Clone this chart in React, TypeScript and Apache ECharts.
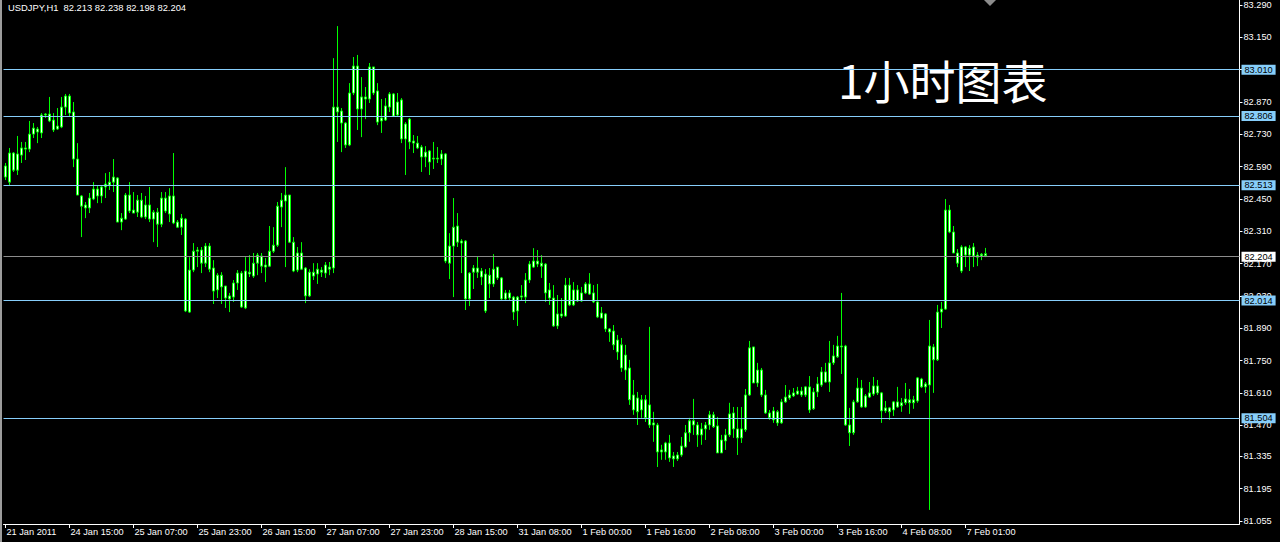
import React, { useEffect, useRef } from 'react';
import * as echarts from 'echarts';

const infoText = 'USDJPY,H1  82.213 82.238 82.198 82.204';
const chartTitle = '1小时图表';

const xTickLabels = [
  '21 Jan 2011', '24 Jan 15:00', '25 Jan 07:00', '25 Jan 23:00', '26 Jan 15:00', '27 Jan 07:00',
  '27 Jan 23:00', '28 Jan 15:00', '31 Jan 08:00', '1 Feb 00:00', '1 Feb 16:00', '2 Feb 08:00',
  '3 Feb 00:00', '3 Feb 16:00', '4 Feb 08:00', '7 Feb 01:00',
];
const barsPerLabel = 16;

const yTickValues = [
  83.29, 83.15, 83.01, 82.87, 82.73, 82.59, 82.45, 82.31, 82.17, 82.03,
  81.89, 81.75, 81.61, 81.47, 81.335, 81.195, 81.055,
];
const yMin = 81.042;
const yMax = 83.312;

const levelLines = [83.01, 82.806, 82.513, 82.014, 81.504];
const bidPrice = 82.204;

// [open, close, low, high]
const ohlc: number[][] = [
  // 0
  [82.545, 82.593, 82.532, 82.606], [82.523, 82.649, 82.510, 82.671], [82.649, 82.575, 82.567, 82.653], [82.575, 82.645, 82.554, 82.723],
  [82.640, 82.671, 82.606, 82.697], [82.666, 82.671, 82.619, 82.697], [82.666, 82.731, 82.653, 82.788], [82.731, 82.757, 82.714, 82.779],
  [82.753, 82.740, 82.692, 82.762], [82.736, 82.814, 82.714, 82.822], [82.814, 82.818, 82.801, 82.822], [82.818, 82.788, 82.783, 82.892],
  [82.792, 82.749, 82.740, 82.822], [82.753, 82.766, 82.749, 82.844], [82.762, 82.848, 82.757, 82.892], [82.848, 82.896, 82.814, 82.905],
  // 16
  [82.896, 82.822, 82.805, 82.905], [82.827, 82.623, 82.588, 82.870], [82.623, 82.467, 82.467, 82.692], [82.463, 82.419, 82.285, 82.467],
  [82.424, 82.411, 82.367, 82.437], [82.411, 82.454, 82.389, 82.476], [82.450, 82.493, 82.445, 82.523], [82.493, 82.463, 82.432, 82.506],
  [82.463, 82.502, 82.432, 82.506], [82.502, 82.515, 82.454, 82.562], [82.510, 82.523, 82.489, 82.567], [82.523, 82.545, 82.480, 82.623],
  [82.541, 82.350, 82.350, 82.545], [82.350, 82.367, 82.315, 82.389], [82.363, 82.467, 82.359, 82.476], [82.467, 82.398, 82.389, 82.523],
  // 32
  [82.402, 82.389, 82.389, 82.480], [82.393, 82.445, 82.372, 82.467], [82.445, 82.372, 82.367, 82.476], [82.372, 82.424, 82.363, 82.463],
  [82.424, 82.363, 82.350, 82.502], [82.363, 82.393, 82.263, 82.402], [82.393, 82.341, 82.242, 82.411], [82.341, 82.454, 82.328, 82.480],
  [82.454, 82.398, 82.389, 82.480], [82.385, 82.463, 82.350, 82.497], [82.463, 82.346, 82.341, 82.649], [82.350, 82.328, 82.324, 82.359],
  [82.328, 82.367, 82.294, 82.385], [82.363, 81.965, 81.960, 82.367], [81.960, 82.142, 81.956, 82.198], [82.142, 82.224, 82.133, 82.259],
  // 48
  [82.224, 82.229, 82.155, 82.242], [82.229, 82.172, 82.129, 82.242], [82.172, 82.246, 82.155, 82.259], [82.246, 82.146, 82.133, 82.259],
  [82.151, 82.051, 81.995, 82.185], [82.056, 82.120, 82.021, 82.129], [82.120, 82.069, 81.995, 82.133], [82.073, 82.021, 81.978, 82.073],
  [82.030, 82.017, 81.960, 82.043], [82.025, 82.086, 82.004, 82.099], [82.086, 82.129, 82.056, 82.142], [82.129, 81.982, 81.978, 82.138],
  [81.978, 82.138, 81.973, 82.198], [82.133, 82.125, 82.112, 82.207], [82.116, 82.172, 82.108, 82.216], [82.172, 82.207, 82.120, 82.216],
  // 64
  [82.203, 82.159, 82.129, 82.216], [82.164, 82.155, 82.090, 82.194], [82.159, 82.224, 82.155, 82.333], [82.224, 82.250, 82.216, 82.328],
  [82.250, 82.419, 82.242, 82.437], [82.415, 82.445, 82.328, 82.476], [82.441, 82.467, 82.155, 82.588], [82.467, 82.263, 82.259, 82.467],
  [82.263, 82.138, 82.133, 82.285], [82.142, 82.216, 82.133, 82.242], [82.216, 82.146, 82.142, 82.263], [82.151, 82.030, 81.999, 82.155],
  [82.030, 82.133, 82.025, 82.146], [82.133, 82.116, 82.099, 82.172], [82.125, 82.146, 82.082, 82.172], [82.142, 82.133, 82.112, 82.155],
  // 80
  [82.129, 82.164, 82.108, 82.177], [82.155, 82.146, 82.120, 82.177], [82.151, 82.848, 82.129, 83.060], [82.848, 82.827, 82.697, 83.199],
  [82.831, 82.779, 82.653, 82.844], [82.779, 82.684, 82.671, 82.783], [82.684, 82.909, 82.679, 82.952], [82.909, 83.026, 82.900, 83.065],
  [83.026, 82.840, 82.749, 83.074], [82.840, 82.892, 82.718, 82.978], [82.892, 82.883, 82.796, 82.935], [82.883, 83.022, 82.866, 83.039],
  [83.022, 82.909, 82.900, 83.022], [82.918, 82.783, 82.770, 82.952], [82.801, 82.788, 82.736, 82.883], [82.792, 82.853, 82.788, 82.887],
  // 96
  [82.848, 82.905, 82.827, 82.913], [82.905, 82.809, 82.805, 82.909], [82.814, 82.870, 82.809, 82.909], [82.879, 82.710, 82.692, 82.887],
  [82.710, 82.775, 82.554, 82.783], [82.796, 82.697, 82.666, 82.801], [82.701, 82.692, 82.649, 82.727], [82.692, 82.671, 82.666, 82.723],
  [82.675, 82.632, 82.567, 82.684], [82.632, 82.653, 82.588, 82.679], [82.658, 82.610, 82.554, 82.662], [82.627, 82.623, 82.580, 82.697],
  [82.623, 82.627, 82.606, 82.675], [82.623, 82.645, 82.597, 82.662], [82.645, 82.181, 82.172, 82.649], [82.172, 82.246, 82.103, 82.302],
  // 112
  [82.246, 82.328, 82.025, 82.454], [82.333, 82.263, 82.242, 82.389], [82.268, 82.259, 82.129, 82.276], [82.268, 82.017, 81.969, 82.272],
  [82.017, 82.129, 81.986, 82.133], [82.133, 82.151, 82.060, 82.164], [82.151, 82.133, 82.108, 82.203], [82.138, 82.112, 82.077, 82.151],
  [82.125, 81.965, 81.956, 82.146], [82.082, 82.120, 82.021, 82.151], [82.082, 82.146, 82.069, 82.211], [82.155, 82.108, 82.099, 82.155],
  [82.108, 82.017, 82.012, 82.112], [82.017, 82.043, 82.008, 82.056], [82.043, 82.021, 82.012, 82.056], [82.025, 81.960, 81.926, 82.030],
  // 128
  [81.965, 82.025, 81.900, 82.030], [82.025, 82.030, 82.012, 82.077], [82.025, 82.099, 81.999, 82.129], [82.099, 82.168, 82.086, 82.181],
  [82.155, 82.181, 82.151, 82.237], [82.181, 82.168, 82.155, 82.229], [82.172, 82.159, 82.108, 82.207], [82.168, 82.043, 82.004, 82.172],
  [82.056, 82.021, 81.991, 82.086], [82.021, 81.900, 81.896, 82.077], [81.900, 81.952, 81.887, 82.034], [81.952, 81.943, 81.934, 82.021],
  [81.943, 82.077, 81.939, 82.108], [82.077, 81.991, 81.986, 82.108], [81.991, 82.056, 81.986, 82.090], [82.056, 82.008, 82.004, 82.077],
  // 144
  [82.008, 82.043, 82.004, 82.069], [82.043, 82.082, 82.038, 82.090], [82.082, 82.038, 82.034, 82.129], [82.043, 82.004, 81.999, 82.077],
  [82.004, 81.939, 81.934, 82.082], [81.956, 81.934, 81.934, 81.982], [81.952, 81.887, 81.874, 81.956], [81.887, 81.874, 81.831, 81.891],
  [81.878, 81.818, 81.796, 81.904], [81.839, 81.787, 81.753, 81.861], [81.818, 81.718, 81.701, 81.848], [81.774, 81.709, 81.666, 81.818],
  [81.718, 81.580, 81.558, 81.753], [81.601, 81.536, 81.515, 81.666], [81.588, 81.528, 81.471, 81.614], [81.536, 81.580, 81.502, 81.601],
  // 160
  [81.580, 81.502, 81.484, 81.601], [81.558, 81.471, 81.458, 81.896], [81.480, 81.471, 81.398, 81.528], [81.471, 81.354, 81.289, 81.480],
  [81.354, 81.363, 81.320, 81.385], [81.354, 81.393, 81.320, 81.398], [81.393, 81.328, 81.311, 81.428], [81.337, 81.324, 81.289, 81.354],
  [81.324, 81.341, 81.315, 81.354], [81.341, 81.380, 81.333, 81.419], [81.376, 81.437, 81.372, 81.471], [81.437, 81.489, 81.398, 81.502],
  [81.489, 81.471, 81.428, 81.584], [81.471, 81.428, 81.376, 81.484], [81.428, 81.454, 81.385, 81.480], [81.454, 81.471, 81.406, 81.484],
  // 176
  [81.471, 81.515, 81.450, 81.532], [81.515, 81.463, 81.458, 81.528], [81.467, 81.350, 81.350, 81.506], [81.350, 81.406, 81.350, 81.428],
  [81.402, 81.428, 81.363, 81.454], [81.428, 81.519, 81.419, 81.567], [81.523, 81.454, 81.415, 81.549], [81.454, 81.415, 81.341, 81.549],
  [81.415, 81.454, 81.393, 81.549], [81.450, 81.601, 81.441, 81.627], [81.601, 81.805, 81.597, 81.835], [81.809, 81.653, 81.653, 81.809],
  [81.653, 81.709, 81.636, 81.740], [81.709, 81.601, 81.592, 81.718], [81.601, 81.523, 81.519, 81.623], [81.523, 81.502, 81.493, 81.536],
  // 192
  [81.493, 81.532, 81.480, 81.549], [81.528, 81.480, 81.467, 81.536], [81.480, 81.571, 81.476, 81.584], [81.571, 81.592, 81.567, 81.644],
  [81.588, 81.601, 81.580, 81.623], [81.597, 81.610, 81.592, 81.631], [81.605, 81.618, 81.601, 81.636], [81.618, 81.601, 81.592, 81.636],
  [81.601, 81.636, 81.592, 81.640], [81.636, 81.536, 81.523, 81.683], [81.541, 81.614, 81.536, 81.631], [81.614, 81.649, 81.592, 81.679],
  [81.644, 81.701, 81.636, 81.722], [81.701, 81.657, 81.653, 81.740], [81.657, 81.740, 81.614, 81.835], [81.740, 81.770, 81.731, 81.818],
  // 208
  [81.766, 81.813, 81.761, 81.857], [81.809, 81.813, 81.692, 82.043], [81.813, 81.471, 81.467, 81.818], [81.471, 81.437, 81.380, 81.545],
  [81.437, 81.571, 81.428, 81.580], [81.571, 81.631, 81.567, 81.675], [81.631, 81.549, 81.545, 81.666], [81.549, 81.597, 81.545, 81.605],
  [81.592, 81.610, 81.588, 81.657], [81.605, 81.640, 81.597, 81.679], [81.640, 81.610, 81.601, 81.666], [81.610, 81.532, 81.480, 81.614],
  [81.532, 81.545, 81.523, 81.575], [81.545, 81.528, 81.493, 81.549], [81.536, 81.571, 81.510, 81.575], [81.571, 81.549, 81.545, 81.636],
  // 224
  [81.554, 81.567, 81.528, 81.588], [81.567, 81.584, 81.558, 81.653], [81.580, 81.567, 81.519, 81.627], [81.567, 81.580, 81.541, 81.597],
  [81.575, 81.675, 81.567, 81.679], [81.670, 81.636, 81.631, 81.675], [81.636, 81.649, 81.610, 81.657], [81.644, 81.813, 81.103, 81.926],
  [81.809, 81.753, 81.610, 81.822], [81.753, 81.960, 81.748, 81.991], [81.960, 81.973, 81.891, 82.004], [81.973, 82.402, 81.969, 82.450],
  [82.402, 82.307, 82.302, 82.424], [82.307, 82.216, 82.216, 82.333], [82.216, 82.172, 82.155, 82.233], [82.138, 82.242, 82.129, 82.250],
  // 240
  [82.242, 82.207, 82.155, 82.246], [82.207, 82.237, 82.138, 82.250], [82.242, 82.203, 82.155, 82.259], [82.207, 82.198, 82.159, 82.220],
  [82.203, 82.211, 82.185, 82.216], [82.213, 82.204, 82.198, 82.238],
];

// empty slots to the right of the last bar (chart shift area)
const totalSlots = 309;

const categories: string[] = [];
for (let i = 0; i < totalSlots; i++) {
  if (i < ohlc.length) {
    categories.push(i % barsPerLabel === 0 ? xTickLabels[i / barsPerLabel] : String(i));
  } else {
    categories.push('');
  }
}

const LABEL_FONT = "'Liberation Sans', Arial, sans-serif";

export default function App() {
  const ref = useRef<HTMLDivElement>(null);

  useEffect(() => {
    document.body.style.margin = '0';
    document.body.style.background = '#000';
    if (!ref.current) return;
    const chart = echarts.init(ref.current, undefined, { renderer: 'svg' });
    const showTick = (index: number) => index % barsPerLabel === 0 && index < ohlc.length;

    const levelData: any[] = levelLines.map((v) => ({
      yAxis: v,
      lineStyle: { color: '#87cefa', width: 1, type: 'solid' },
      label: { backgroundColor: '#87cefa', color: '#000000', formatter: v.toFixed(3) },
    }));
    levelData.push({
      yAxis: bidPrice,
      lineStyle: { color: '#8c8c8c', width: 1, type: 'solid' },
      label: { backgroundColor: '#ffffff', color: '#000000', formatter: bidPrice.toFixed(3) },
    });

    chart.setOption({
      animation: false,
      backgroundColor: '#000000',
      grid: { left: 3.5, top: 0, width: 1236, height: 524 },
      xAxis: {
        type: 'category',
        data: categories,
        boundaryGap: true,
        axisLine: { show: true, onZero: false, lineStyle: { color: '#ffffff', width: 1 } },
        axisTick: {
          show: true,
          alignWithLabel: true,
          interval: showTick,
          length: 4,
          lineStyle: { color: '#ffffff' },
        },
        axisLabel: {
          interval: showTick,
          color: '#ffffff',
          fontSize: 9.2,
          fontFamily: LABEL_FONT,
          align: 'left',
          margin: 3,
          padding: [0, 0, 0, 1],
        },
        splitLine: { show: false },
      },
      yAxis: {
        type: 'value',
        position: 'right',
        min: yMin,
        max: yMax,
        scale: true,
        axisLine: { show: true, lineStyle: { color: '#ffffff', width: 1 } },
        axisTick: {
          show: true,
          length: 3,
          customValues: yTickValues,
          lineStyle: { color: '#ffffff' },
        },
        axisLabel: {
          customValues: yTickValues,
          formatter: (v: number) => v.toFixed(3),
          color: '#ffffff',
          fontSize: 9.2,
          fontFamily: LABEL_FONT,
          margin: 4,
        },
        splitLine: { show: false },
      },
      series: [
        {
          type: 'line',
          data: [],
          z: 1,
          silent: true,
          markLine: {
            silent: true,
            symbol: 'none',
            animation: false,
            lineStyle: { width: 1, type: 'solid' },
            label: {
              position: 'end',
              distance: 2,
              fontSize: 9.2,
              fontFamily: LABEL_FONT,
              padding: [1, 3, 0, 3],
            },
            data: levelData,
          },
        },
        {
          type: 'candlestick',
          z: 3,
          barWidth: 2,
          data: ohlc,
          itemStyle: {
            color: '#ffffff',
            color0: '#ffffff',
            borderColor: '#00ff00',
            borderColor0: '#00ff00',
            borderWidth: 1,
          },
        },
      ],
      graphic: [
        {
          type: 'rect',
          left: 0,
          top: 0,
          shape: { x: 0, y: 0, width: 2, height: 542 },
          style: { fill: '#9c9c9c' },
          silent: true,
        },
        {
          type: 'text',
          x: 8,
          y: 3,
          silent: true,
          style: {
            text: infoText,
            fill: '#ffffff',
            fontSize: 9.4,
            fontFamily: LABEL_FONT,
          },
        },
        {
          type: 'text',
          x: 838,
          y: 79,
          silent: true,
          style: {
            text: chartTitle,
            fill: '#ffffff',
            fontSize: 46,
            fontFamily: "'Noto Sans CJK SC', sans-serif",
            verticalAlign: 'middle',
          },
        },
        {
          type: 'polygon',
          silent: true,
          shape: { points: [[984, 0], [996, 0], [990, 6]] },
          style: { fill: '#8c8c8c' },
        },
      ],
    });
    return () => chart.dispose();
  }, []);

  return (
    <div
      ref={ref}
      style={{ position: 'fixed', left: 0, top: 0, width: 1280, height: 542, background: '#000' }}
    />
  );
}
